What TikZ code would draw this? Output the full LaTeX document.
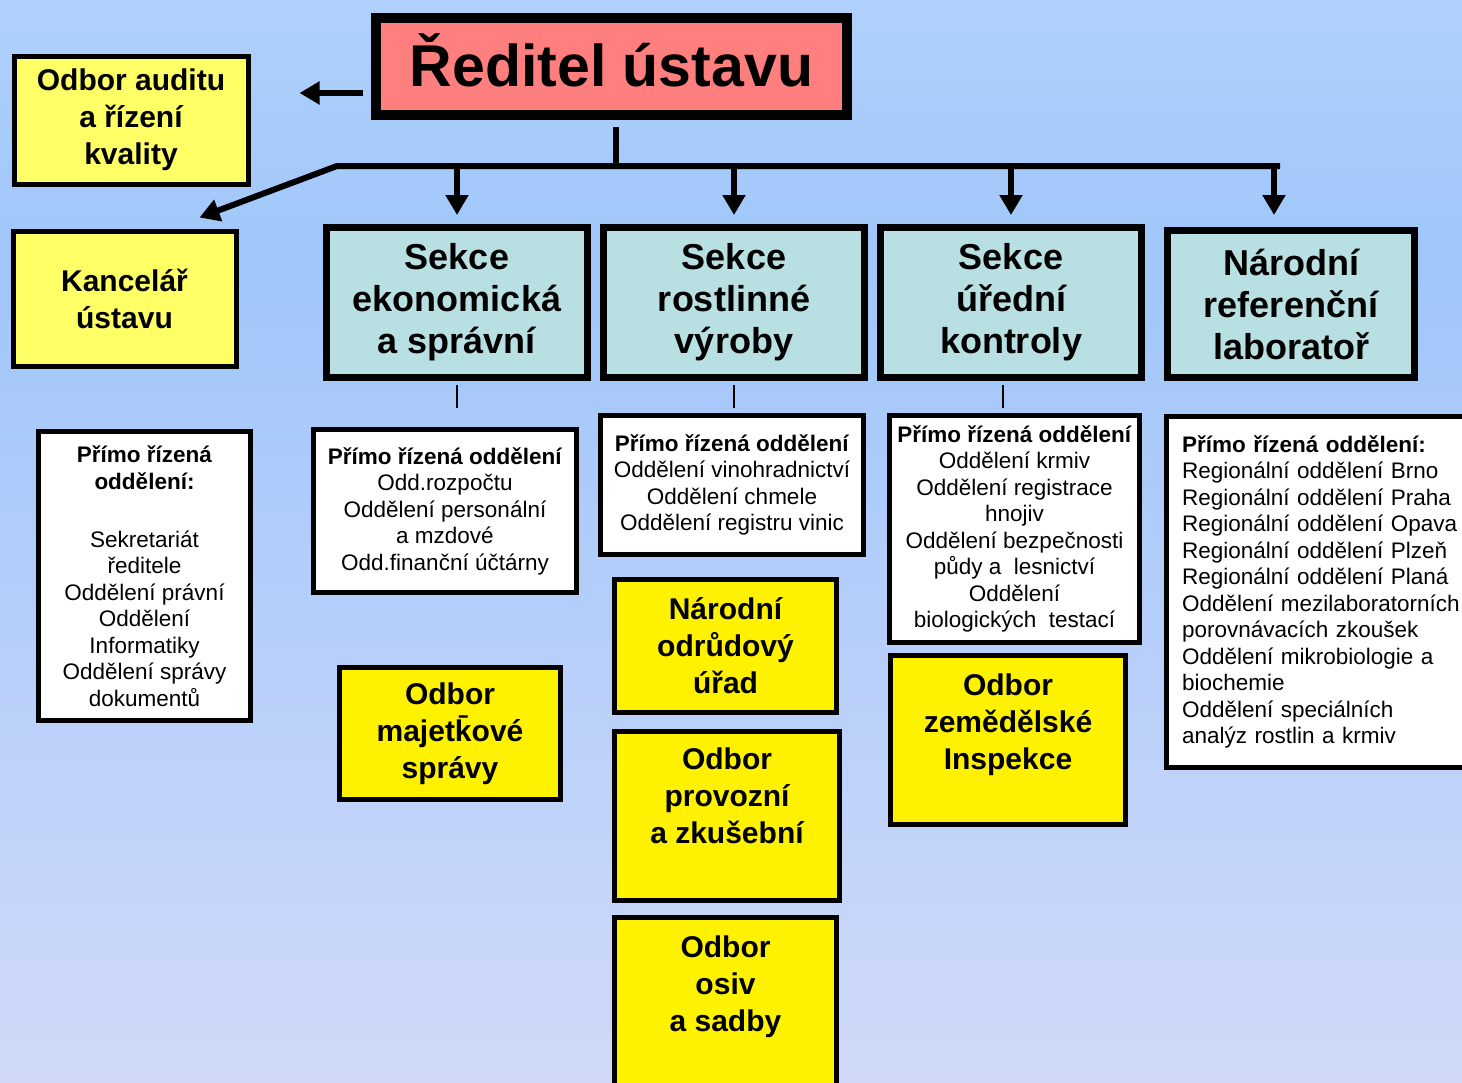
\documentclass[tikz,border=0pt]{standalone}
\usepackage{fontspec}
\setmainfont{Liberation Sans}
\usepackage{tikz}
\usetikzlibrary{arrows.meta, positioning}

\definecolor{bgtop}{HTML}{CFE8FC}
\definecolor{bgmid}{HTML}{A0C6FA}
\definecolor{bgbottom}{HTML}{F0E6F9}
\definecolor{salmon}{HTML}{FF7F7F}
\definecolor{sectionteal}{HTML}{B8DFE1}
\definecolor{paleyellow}{HTML}{FFFF66}
\pgfdeclareverticalshading{bgfade}{100bp}{color(0bp)=(bgbottom); color(63bp)=(bgmid); color(100bp)=(bgtop)}

\tikzset{
  box/.style={draw, rectangle, align=center, inner sep=0pt},
  headbox/.style={box, fill=salmon, line width=10pt, font=\bfseries\fontsize{59}{70}\selectfont},
  sectionbox/.style={box, fill=sectionteal, line width=7pt, font=\bfseries\fontsize{36}{42}\selectfont},
  unitbox/.style={box, fill=yellow, line width=5pt, font=\bfseries\fontsize{30}{37}\selectfont},
  listbox/.style={box, fill=white, line width=5pt, font=\fontsize{22.5}{26.5}\selectfont},
  link/.style={line width=6pt},
  linkarrow/.style={link, -{Triangle[length=20pt,width=22pt]}},
  thinlink/.style={line width=2pt},
}

\begin{document}
\begin{tikzpicture}[x=1pt, y=-1pt]
   \useasboundingbox (0,0) rectangle (1462,1082);
   \shade[shading=bgfade] (0,0) rectangle (1462,1082);

   \node[headbox, text depth=12pt, minimum width=471, minimum height=97] (reditel) at (611.5,66.5) {Ředitel ústavu};
   \node[unitbox, fill=paleyellow, minimum width=234, minimum height=128] (audit) at (131,120) {Odbor auditu\\a řízení\\kvality};
   \node[unitbox, fill=paleyellow, minimum width=223, minimum height=135] (kancelar) at (124.5,298.5) {Kancelář\\ústavu};

   \node[sectionbox, minimum width=261, minimum height=150] (sekceEk) at (457,302.5) {Sekce\\ekonomická\\a správní};
   \node[sectionbox, minimum width=261, minimum height=150] (sekceRv) at (734,302.5) {Sekce\\rostlinné\\výroby};
   \node[sectionbox, minimum width=261, minimum height=150] (sekceUk) at (1011,302.5) {Sekce\\úřední\\kontroly};
   \node[sectionbox, minimum width=247, minimum height=147] (nrl) at (1291,304) {Národní\\referenční\\laboratoř};

   \node[listbox, minimum width=212, minimum height=289] (listKanc) at (144.5,576)
      {\textbf{Přímo řízená}\\\textbf{oddělení:}\\[31.5pt]Sekretariát\\ředitele\\Oddělení právní\\Oddělení\\Informatiky\\Oddělení správy\\dokumentů};
   \node[listbox, minimum width=263, minimum height=163] (listEk) at (445,511)
      {\textbf{Přímo řízená oddělení}\\Odd.rozpočtu\\Oddělení personální\\a mzdové\\Odd.finanční účtárny};
   \node[listbox, minimum width=263, minimum height=139] (listRv) at (732,485)
      {\textbf{Přímo řízená oddělení}\\Oddělení vinohradnictví\\Oddělení chmele\\Oddělení registru vinic};
   \node[listbox, minimum width=250, minimum height=227] (listUk) at (1014.5,529)
      {\textbf{Přímo řízená oddělení}\\Oddělení krmiv\\Oddělení registrace\\hnojiv\\Oddělení bezpečnosti\\půdy a\ \ lesnictví\\Oddělení\\biologických\ \ testací};
   \node[listbox, align=left, text width=280, minimum width=311, minimum height=351] (listNrl) at (1322,592)
      {\textbf{Přímo řízená oddělení:}\\Regionální oddělení Brno\\Regionální oddělení Praha\\Regionální oddělení Opava\\Regionální oddělení Plzeň\\Regionální oddělení Planá\\Oddělení mezilaboratorních\\porovnávacích zkoušek\\Oddělení mikrobiologie a\\biochemie\\Oddělení speciálních\\analýz rostlin a krmiv};

   \node[unitbox, minimum width=221, minimum height=132] (majetek) at (450,733.5) {Odbor\\majetk̄ové\\správy};
   \node[unitbox, minimum width=222, minimum height=133] (odrudy) at (725.5,646) {Národní\\odrůdový\\úřad};
   \node[unitbox, minimum width=225, minimum height=169] (provoz) at (727,816) {Odbor\\provozní\\a zkušební\\[-8pt]\strut};
   \node[unitbox, minimum width=222, minimum height=175] (osiv) at (725.5,1005) {Odbor\\osiv\\a sadby\\[-6pt]\strut};
   \node[unitbox, minimum width=235, minimum height=169] (inspekce) at (1008,740) {Odbor\\zemědělské\\Inspekce\\[-12pt]\strut};

   \coordinate (stem) at ([xshift=4pt]reditel.south);
   \coordinate (busL) at (337,166);
   \coordinate (busR) at (1280,166);
   \draw[link] ([yshift=-7pt]stem) -- (stem |- busL);
   \draw[linkarrow] (busR) -- (busL) -- ([xshift=-39pt,yshift=11pt]kancelar.north east);
   \draw[linkarrow] (sekceEk.north |- busL) -- ([yshift=9pt]sekceEk.north);
   \draw[linkarrow] (sekceRv.north |- busL) -- ([yshift=9pt]sekceRv.north);
   \draw[linkarrow] (sekceUk.north |- busL) -- ([yshift=9pt]sekceUk.north);
   \draw[linkarrow] ([xshift=-17pt]nrl.north |- busL) -- ([xshift=-17pt,yshift=12pt]nrl.north);
   \draw[linkarrow, shorten <=8pt, shorten >=49pt] ([yshift=-26.5pt]reditel.west) -- ([yshift=-26.5pt]reditel.west -| audit.east);

   \draw[thinlink, shorten <=4pt, shorten >=19pt] (sekceEk.south) -- (sekceEk.south |- listEk.north);
   \draw[thinlink, shorten <=4pt, shorten >=5pt] (sekceRv.south) -- (sekceRv.south |- listRv.north);
   \draw[thinlink, shorten <=4pt, shorten >=5pt] ([xshift=-8pt]sekceUk.south) -- ([xshift=-8pt]sekceUk.south |- listUk.north);
\end{tikzpicture}
\end{document}
